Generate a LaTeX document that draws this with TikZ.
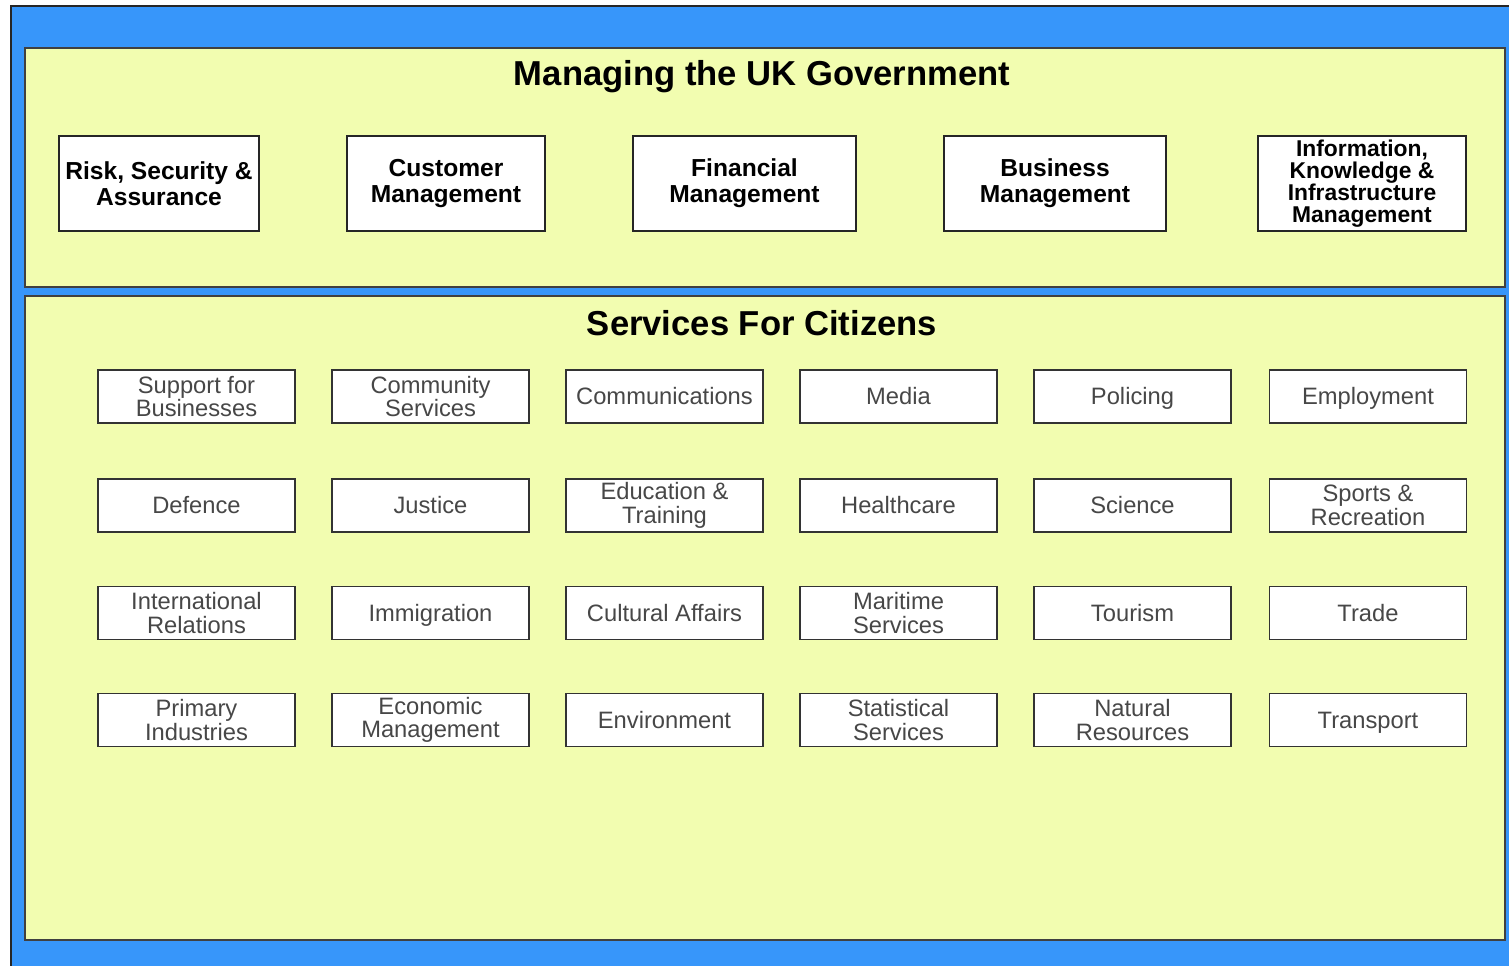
\documentclass[tikz,border=0pt]{standalone}
\usepackage{fontspec}
\setmainfont{Liberation Sans}
\definecolor{frameblue}{RGB}{55,150,250}
\definecolor{panelyellow}{RGB}{242,253,176}
\tikzset{
  panel/.style={fill=panelyellow,draw=black!75,line width=.8pt},
  topbox/.style={draw=black!85,fill=white,line width=1pt,align=center,
    font=\fontsize{14}{15}\selectfont\bfseries,inner sep=1pt},
  svcbox/.style={draw=black!80,fill=white,line width=1pt,align=center,
    minimum width=197*0.02cm,minimum height=53*0.02cm,inner sep=0pt,
    font=\fontsize{13.5}{13.5}\selectfont,text=black!72},
  svcone/.style={svcbox,text height=1.9ex,text depth=.1ex},
  heading/.style={font=\fontsize{19.7}{21}\selectfont\bfseries}
}
\begin{document}
\begin{tikzpicture}[x=0.02cm,y=-0.02cm]
\useasboundingbox (0,0) rectangle (1509,966);
\fill[frameblue] (11,6) rectangle (1509,966);
\draw[black!85,line width=1pt] (11,966) -- (11,6) -- (1509,6);
% the two panels
\draw[panel] (25,48) rectangle (1505,287);
\draw[panel] (25,296) rectangle (1505,940);
\node[heading] (gov) at (762,77) {Managing the UK Government};
\node[heading] (cit) at (762,323) {Services For Citizens};
% management boxes
\node[topbox,minimum width=200*0.02cm,minimum height=95*0.02cm] (risk) at (159,183.5) {Risk, Security \&\\Assurance};
\node[topbox,minimum width=198*0.02cm,minimum height=95*0.02cm] (cust) at (446,183.5) {Customer\\Management};
\node[topbox,minimum width=223*0.02cm,minimum height=95*0.02cm] (fin) at (744.5,183.5) {Financial\\Management};
\node[topbox,minimum width=222*0.02cm,minimum height=95*0.02cm] (bus) at (1055,183.5) {Business\\Management};
\node[topbox,minimum width=208*0.02cm,minimum height=95*0.02cm,font=\fontsize{13}{12.5}\selectfont\bfseries] (info) at (1362,183.5) {Information,\\Knowledge \&\\Infrastructure\\Management};
% services, row by row
\node[svcbox] (supp) at (196.5,396.5) {Support for\\Businesses};
\node[svcbox] (comm) at (430.5,396.5) {Community\\Services};
\node[svcone] (cmms) at (664.5,396.5) {Communications};
\node[svcone] (media) at (898.5,396.5) {Media};
\node[svcone] (pol) at (1132.5,396.5) {Policing};
\node[svcone] (emp) at (1368,396.5) {Employment};
\node[svcone] (def) at (196.5,505.5) {Defence};
\node[svcone] (just) at (430.5,505.5) {Justice};
\node[svcbox] (edu) at (664.5,505.5) {Education \&\\Training};
\node[svcone] (health) at (898.5,505.5) {Healthcare};
\node[svcone] (sci) at (1132.5,505.5) {Science};
\node[svcbox] (sport) at (1368,505.5) {Sports \&\\Recreation};
\node[svcbox] (intl) at (196.5,613) {International\\Relations};
\node[svcone] (imm) at (430.5,613) {Immigration};
\node[svcone] (cult) at (664.5,613) {Cultural Affairs};
\node[svcbox] (mar) at (898.5,613) {Maritime\\Services};
\node[svcone] (tour) at (1132.5,613) {Tourism};
\node[svcone] (trade) at (1368,613) {Trade};
\node[svcbox] (prim) at (196.5,720) {Primary\\Industries};
\node[svcbox] (econ) at (430.5,720) {Economic\\Management};
\node[svcone] (env) at (664.5,720) {Environment};
\node[svcbox] (stat) at (898.5,720) {Statistical\\Services};
\node[svcbox] (nat) at (1132.5,720) {Natural\\Resources};
\node[svcone] (trans) at (1368,720) {Transport};
\end{tikzpicture}
\end{document}
